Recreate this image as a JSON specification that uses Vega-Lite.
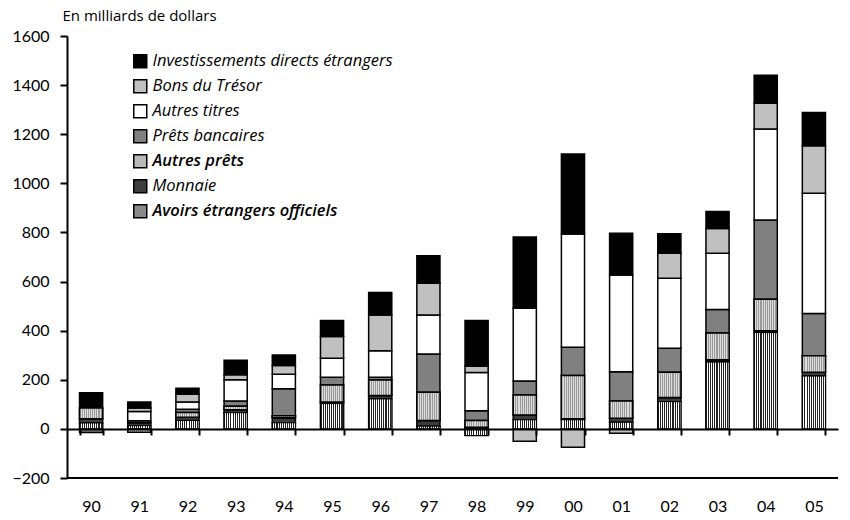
{
  "$schema": "https://vega.github.io/schema/vega-lite/v6.json",
  "width": 771,
  "height": 442,
  "autosize": {"type": "none"},
  "padding": {"left": 67, "top": 36, "right": 12, "bottom": 42},
  "background": "white",
  "config": {
    "view": {"stroke": null},
    "font": "Lato",
    "axis": {"labelColor": "#000", "titleColor": "#000", "domainColor": "#000", "tickColor": "#000", "grid": false}
  },
  "datasets": {
    "ordre": [
      {"serie": "Avoirs étrangers officiels", "rang": 1},
      {"serie": "Monnaie", "rang": 2},
      {"serie": "Autres prêts", "rang": 3},
      {"serie": "Prêts bancaires", "rang": 4},
      {"serie": "Autres titres", "rang": 5},
      {"serie": "Bons du Trésor", "rang": 6},
      {"serie": "Investissements directs étrangers", "rang": 7}
    ],
    "flux": [
      {"annee": "90", "serie": "Avoirs étrangers officiels", "valeur": 24},
      {"annee": "90", "serie": "Monnaie", "valeur": 17},
      {"annee": "90", "serie": "Autres prêts", "valeur": 44},
      {"annee": "90", "serie": "Prêts bancaires", "valeur": -15},
      {"annee": "90", "serie": "Investissements directs étrangers", "valeur": 62},
      {"annee": "91", "serie": "Avoirs étrangers officiels", "valeur": 13},
      {"annee": "91", "serie": "Monnaie", "valeur": 12},
      {"annee": "91", "serie": "Autres prêts", "valeur": -14},
      {"annee": "91", "serie": "Prêts bancaires", "valeur": 8},
      {"annee": "91", "serie": "Autres titres", "valeur": 38},
      {"annee": "91", "serie": "Bons du Trésor", "valeur": 14},
      {"annee": "91", "serie": "Investissements directs étrangers", "valeur": 25},
      {"annee": "92", "serie": "Avoirs étrangers officiels", "valeur": 34},
      {"annee": "92", "serie": "Monnaie", "valeur": 13},
      {"annee": "92", "serie": "Autres prêts", "valeur": 20},
      {"annee": "92", "serie": "Prêts bancaires", "valeur": 13},
      {"annee": "92", "serie": "Autres titres", "valeur": 30},
      {"annee": "92", "serie": "Bons du Trésor", "valeur": 31},
      {"annee": "92", "serie": "Investissements directs étrangers", "valeur": 25},
      {"annee": "93", "serie": "Avoirs étrangers officiels", "valeur": 66},
      {"annee": "93", "serie": "Monnaie", "valeur": 12},
      {"annee": "93", "serie": "Autres prêts", "valeur": 14},
      {"annee": "93", "serie": "Prêts bancaires", "valeur": 22},
      {"annee": "93", "serie": "Autres titres", "valeur": 86},
      {"annee": "93", "serie": "Bons du Trésor", "valeur": 20},
      {"annee": "93", "serie": "Investissements directs étrangers", "valeur": 60},
      {"annee": "94", "serie": "Avoirs étrangers officiels", "valeur": 25},
      {"annee": "94", "serie": "Monnaie", "valeur": 20},
      {"annee": "94", "serie": "Autres prêts", "valeur": 8},
      {"annee": "94", "serie": "Prêts bancaires", "valeur": 110},
      {"annee": "94", "serie": "Autres titres", "valeur": 60},
      {"annee": "94", "serie": "Bons du Trésor", "valeur": 35},
      {"annee": "94", "serie": "Investissements directs étrangers", "valeur": 43},
      {"annee": "95", "serie": "Avoirs étrangers officiels", "valeur": 103},
      {"annee": "95", "serie": "Monnaie", "valeur": 6},
      {"annee": "95", "serie": "Autres prêts", "valeur": 70},
      {"annee": "95", "serie": "Prêts bancaires", "valeur": 31},
      {"annee": "95", "serie": "Autres titres", "valeur": 78},
      {"annee": "95", "serie": "Bons du Trésor", "valeur": 88},
      {"annee": "95", "serie": "Investissements directs étrangers", "valeur": 65},
      {"annee": "96", "serie": "Avoirs étrangers officiels", "valeur": 122},
      {"annee": "96", "serie": "Monnaie", "valeur": 14},
      {"annee": "96", "serie": "Autres prêts", "valeur": 63},
      {"annee": "96", "serie": "Prêts bancaires", "valeur": 11},
      {"annee": "96", "serie": "Autres titres", "valeur": 108},
      {"annee": "96", "serie": "Bons du Trésor", "valeur": 146},
      {"annee": "96", "serie": "Investissements directs étrangers", "valeur": 91},
      {"annee": "97", "serie": "Avoirs étrangers officiels", "valeur": 11},
      {"annee": "97", "serie": "Monnaie", "valeur": 23},
      {"annee": "97", "serie": "Autres prêts", "valeur": 115},
      {"annee": "97", "serie": "Prêts bancaires", "valeur": 156},
      {"annee": "97", "serie": "Autres titres", "valeur": 159},
      {"annee": "97", "serie": "Bons du Trésor", "valeur": 129},
      {"annee": "97", "serie": "Investissements directs étrangers", "valeur": 112},
      {"annee": "98", "serie": "Avoirs étrangers officiels", "valeur": -27},
      {"annee": "98", "serie": "Monnaie", "valeur": 7},
      {"annee": "98", "serie": "Autres prêts", "valeur": 27},
      {"annee": "98", "serie": "Prêts bancaires", "valeur": 40},
      {"annee": "98", "serie": "Autres titres", "valeur": 156},
      {"annee": "98", "serie": "Bons du Trésor", "valeur": 25},
      {"annee": "98", "serie": "Investissements directs étrangers", "valeur": 186},
      {"annee": "99", "serie": "Avoirs étrangers officiels", "valeur": 37},
      {"annee": "99", "serie": "Monnaie", "valeur": 20},
      {"annee": "99", "serie": "Autres prêts", "valeur": 81},
      {"annee": "99", "serie": "Prêts bancaires", "valeur": 57},
      {"annee": "99", "serie": "Autres titres", "valeur": 296},
      {"annee": "99", "serie": "Bons du Trésor", "valeur": -50},
      {"annee": "99", "serie": "Investissements directs étrangers", "valeur": 290},
      {"annee": "00", "serie": "Avoirs étrangers officiels", "valeur": 37},
      {"annee": "00", "serie": "Monnaie", "valeur": 4},
      {"annee": "00", "serie": "Autres prêts", "valeur": 176},
      {"annee": "00", "serie": "Prêts bancaires", "valeur": 115},
      {"annee": "00", "serie": "Autres titres", "valeur": 462},
      {"annee": "00", "serie": "Bons du Trésor", "valeur": -75},
      {"annee": "00", "serie": "Investissements directs étrangers", "valeur": 325},
      {"annee": "01", "serie": "Avoirs étrangers officiels", "valeur": 27},
      {"annee": "01", "serie": "Monnaie", "valeur": 16},
      {"annee": "01", "serie": "Autres prêts", "valeur": 71},
      {"annee": "01", "serie": "Prêts bancaires", "valeur": 119},
      {"annee": "01", "serie": "Autres titres", "valeur": 394},
      {"annee": "01", "serie": "Bons du Trésor", "valeur": -18},
      {"annee": "01", "serie": "Investissements directs étrangers", "valeur": 170},
      {"annee": "02", "serie": "Avoirs étrangers officiels", "valeur": 111},
      {"annee": "02", "serie": "Monnaie", "valeur": 17},
      {"annee": "02", "serie": "Autres prêts", "valeur": 103},
      {"annee": "02", "serie": "Prêts bancaires", "valeur": 97},
      {"annee": "02", "serie": "Autres titres", "valeur": 285},
      {"annee": "02", "serie": "Bons du Trésor", "valeur": 102},
      {"annee": "02", "serie": "Investissements directs étrangers", "valeur": 80},
      {"annee": "03", "serie": "Avoirs étrangers officiels", "valeur": 272},
      {"annee": "03", "serie": "Monnaie", "valeur": 10},
      {"annee": "03", "serie": "Autres prêts", "valeur": 108},
      {"annee": "03", "serie": "Prêts bancaires", "valeur": 96},
      {"annee": "03", "serie": "Autres titres", "valeur": 229},
      {"annee": "03", "serie": "Bons du Trésor", "valeur": 101},
      {"annee": "03", "serie": "Investissements directs étrangers", "valeur": 69},
      {"annee": "04", "serie": "Avoirs étrangers officiels", "valeur": 392},
      {"annee": "04", "serie": "Monnaie", "valeur": 8},
      {"annee": "04", "serie": "Autres prêts", "valeur": 128},
      {"annee": "04", "serie": "Prêts bancaires", "valeur": 323},
      {"annee": "04", "serie": "Autres titres", "valeur": 370},
      {"annee": "04", "serie": "Bons du Trésor", "valeur": 105},
      {"annee": "04", "serie": "Investissements directs étrangers", "valeur": 114},
      {"annee": "05", "serie": "Avoirs étrangers officiels", "valeur": 215},
      {"annee": "05", "serie": "Monnaie", "valeur": 16},
      {"annee": "05", "serie": "Autres prêts", "valeur": 67},
      {"annee": "05", "serie": "Prêts bancaires", "valeur": 172},
      {"annee": "05", "serie": "Autres titres", "valeur": 490},
      {"annee": "05", "serie": "Bons du Trésor", "valeur": 193},
      {"annee": "05", "serie": "Investissements directs étrangers", "valeur": 135}
    ]
  },
  "data": {"name": "flux"},
  "transform": [
    {"lookup": "serie", "from": {"data": {"name": "ordre"}, "key": "serie", "fields": ["rang"]}},
    {"stack": "valeur", "groupby": ["annee"], "sort": [{"field": "rang", "order": "ascending"}], "as": ["v0", "v1"], "offset": "zero"}
  ],
  "encoding": {
    "x": {
      "field": "annee", "type": "ordinal",
      "sort": ["90","91","92","93","94","95","96","97","98","99","00","01","02","03","04","05"],
      "scale": {"paddingInner": 0.52, "paddingOuter": 0.26},
      "axis": {
        "title": null, "orient": "bottom", "offset": -49, "zindex": 1,
        "domainWidth": 2, "ticks": true, "tickSize": 6, "tickWidth": 2, "tickBand": "extent",
        "labelAngle": 0, "labelFontSize": 16, "labelPadding": 63, "labelBaseline": "top",
        "encode": {"ticks": {"update": {"y2": {"value": -6}}}}
      }
    },
    "y": {
      "field": "v1", "type": "quantitative",
      "scale": {"domain": [-200, 1600], "nice": false, "zero": false},
      "axis": {
        "values": [-200, 0, 200, 400, 600, 800, 1000, 1200, 1400, 1600],
        "format": "d",
        "title": "En milliards de dollars", "titleAngle": 0, "titleAlign": "left",
        "titleBaseline": "middle", "titleX": -5, "titleY": -21, "titleFontSize": 15,
        "titleFont": "Open Sans", "titleFontWeight": "normal",
        "domainWidth": 2, "ticks": true, "tickSize": 7, "tickWidth": 2, "zindex": 1,
        "labelFontSize": 16, "labelPadding": 11,
        "encode": {"ticks": {"update": {"x": {"value": 0}, "x2": {"value": 8}}}}
      }
    },
    "y2": {"field": "v0"}
  },
  "layer": [
    {
      "mark": {"type": "bar", "stroke": "#000", "strokeWidth": 1.5},
      "encoding": {
        "color": {
          "field": "serie", "type": "nominal",
          "scale": {
            "domain": ["Investissements directs étrangers", "Bons du Trésor", "Autres titres", "Prêts bancaires", "Autres prêts", "Monnaie", "Avoirs étrangers officiels"],
            "range": ["#000000", "#c0c0c0", "#ffffff", "#808080", "#b8b8b8", "#3c3c3c", "#8a8a8a"]
          },
          "legend": {
            "orient": "none", "legendX": 65, "legendY": 17, "title": null,
            "symbolType": "square", "symbolSize": 169, "symbolStrokeColor": "#000", "symbolStrokeWidth": 1.5,
            "labelFont": "Open Sans", "labelFontSize": 16.5, "labelFontStyle": "italic", "labelColor": "#000", "labelOffset": 4,
            "labelLimit": 0, "rowPadding": 5,
            "encode": {
              "labels": {"update": {"fontWeight": {"signal": "indexof(['Autres prêts','Avoirs étrangers officiels'], datum.value) >= 0 ? 600 : 400"}}}
            }
          }
        }
      }
    },
    {
      "transform": [{"filter": "datum.serie === 'Avoirs étrangers officiels'"}],
      "mark": {"type": "bar", "stroke": "#000", "strokeWidth": 1,
        "color": {"gradient": "linear", "x1": 0, "y1": 0, "x2": 1, "y2": 0, "stops": [
          {"offset": 0, "color": "#222"}, {"offset": 0.0455, "color": "#222"}, {"offset": 0.0455, "color": "#fff"}, {"offset": 0.0909, "color": "#fff"},
          {"offset": 0.0909, "color": "#222"}, {"offset": 0.1364, "color": "#222"}, {"offset": 0.1364, "color": "#fff"}, {"offset": 0.1818, "color": "#fff"},
          {"offset": 0.1818, "color": "#222"}, {"offset": 0.2273, "color": "#222"}, {"offset": 0.2273, "color": "#fff"}, {"offset": 0.2727, "color": "#fff"},
          {"offset": 0.2727, "color": "#222"}, {"offset": 0.3182, "color": "#222"}, {"offset": 0.3182, "color": "#fff"}, {"offset": 0.3636, "color": "#fff"},
          {"offset": 0.3636, "color": "#222"}, {"offset": 0.4091, "color": "#222"}, {"offset": 0.4091, "color": "#fff"}, {"offset": 0.4545, "color": "#fff"},
          {"offset": 0.4545, "color": "#222"}, {"offset": 0.5, "color": "#222"}, {"offset": 0.5, "color": "#fff"}, {"offset": 0.5455, "color": "#fff"},
          {"offset": 0.5455, "color": "#222"}, {"offset": 0.5909, "color": "#222"}, {"offset": 0.5909, "color": "#fff"}, {"offset": 0.6364, "color": "#fff"},
          {"offset": 0.6364, "color": "#222"}, {"offset": 0.6818, "color": "#222"}, {"offset": 0.6818, "color": "#fff"}, {"offset": 0.7273, "color": "#fff"},
          {"offset": 0.7273, "color": "#222"}, {"offset": 0.7727, "color": "#222"}, {"offset": 0.7727, "color": "#fff"}, {"offset": 0.8182, "color": "#fff"},
          {"offset": 0.8182, "color": "#222"}, {"offset": 0.8636, "color": "#222"}, {"offset": 0.8636, "color": "#fff"}, {"offset": 0.9091, "color": "#fff"},
          {"offset": 0.9091, "color": "#222"}, {"offset": 0.9545, "color": "#222"}, {"offset": 0.9545, "color": "#fff"}, {"offset": 1, "color": "#fff"}
        ]}
      }
    },
    {
      "transform": [{"filter": "datum.serie === 'Autres prêts'"}],
      "mark": {"type": "bar", "stroke": "#000", "strokeWidth": 1.5,
        "color": {"gradient": "linear", "x1": 0, "y1": 0, "x2": 1, "y2": 0, "stops": [
          {"offset": 0, "color": "#999"}, {"offset": 0.0455, "color": "#999"}, {"offset": 0.0455, "color": "#ddd"}, {"offset": 0.0909, "color": "#ddd"},
          {"offset": 0.0909, "color": "#999"}, {"offset": 0.1364, "color": "#999"}, {"offset": 0.1364, "color": "#ddd"}, {"offset": 0.1818, "color": "#ddd"},
          {"offset": 0.1818, "color": "#999"}, {"offset": 0.2273, "color": "#999"}, {"offset": 0.2273, "color": "#ddd"}, {"offset": 0.2727, "color": "#ddd"},
          {"offset": 0.2727, "color": "#999"}, {"offset": 0.3182, "color": "#999"}, {"offset": 0.3182, "color": "#ddd"}, {"offset": 0.3636, "color": "#ddd"},
          {"offset": 0.3636, "color": "#999"}, {"offset": 0.4091, "color": "#999"}, {"offset": 0.4091, "color": "#ddd"}, {"offset": 0.4545, "color": "#ddd"},
          {"offset": 0.4545, "color": "#999"}, {"offset": 0.5, "color": "#999"}, {"offset": 0.5, "color": "#ddd"}, {"offset": 0.5455, "color": "#ddd"},
          {"offset": 0.5455, "color": "#999"}, {"offset": 0.5909, "color": "#999"}, {"offset": 0.5909, "color": "#ddd"}, {"offset": 0.6364, "color": "#ddd"},
          {"offset": 0.6364, "color": "#999"}, {"offset": 0.6818, "color": "#999"}, {"offset": 0.6818, "color": "#ddd"}, {"offset": 0.7273, "color": "#ddd"},
          {"offset": 0.7273, "color": "#999"}, {"offset": 0.7727, "color": "#999"}, {"offset": 0.7727, "color": "#ddd"}, {"offset": 0.8182, "color": "#ddd"},
          {"offset": 0.8182, "color": "#999"}, {"offset": 0.8636, "color": "#999"}, {"offset": 0.8636, "color": "#ddd"}, {"offset": 0.9091, "color": "#ddd"},
          {"offset": 0.9091, "color": "#999"}, {"offset": 0.9545, "color": "#999"}, {"offset": 0.9545, "color": "#ddd"}, {"offset": 1, "color": "#ddd"}
        ]}
      }
    },
    {
      "data": {"values": [{"niveau": -200}]},
      "mark": {"type": "rule", "color": "#000", "strokeWidth": 2},
      "encoding": {
        "x": null,
        "y": {
          "field": "niveau", "type": "quantitative",
          "axis": {
            "values": [-200, 0, 200, 400, 600, 800, 1000, 1200, 1400, 1600],
            "format": "d",
            "title": "En milliards de dollars", "titleAngle": 0, "titleAlign": "left",
            "titleBaseline": "middle", "titleX": -5, "titleY": -21, "titleFontSize": 15,
            "titleFont": "Open Sans", "titleFontWeight": "normal",
            "domainWidth": 2, "ticks": true, "tickSize": 7, "tickWidth": 2, "zindex": 1,
            "labelFontSize": 16, "labelPadding": 11,
            "encode": {"ticks": {"update": {"x": {"value": 0}, "x2": {"value": 8}}}}
          }
        },
        "y2": null
      }
    }
  ]
}
